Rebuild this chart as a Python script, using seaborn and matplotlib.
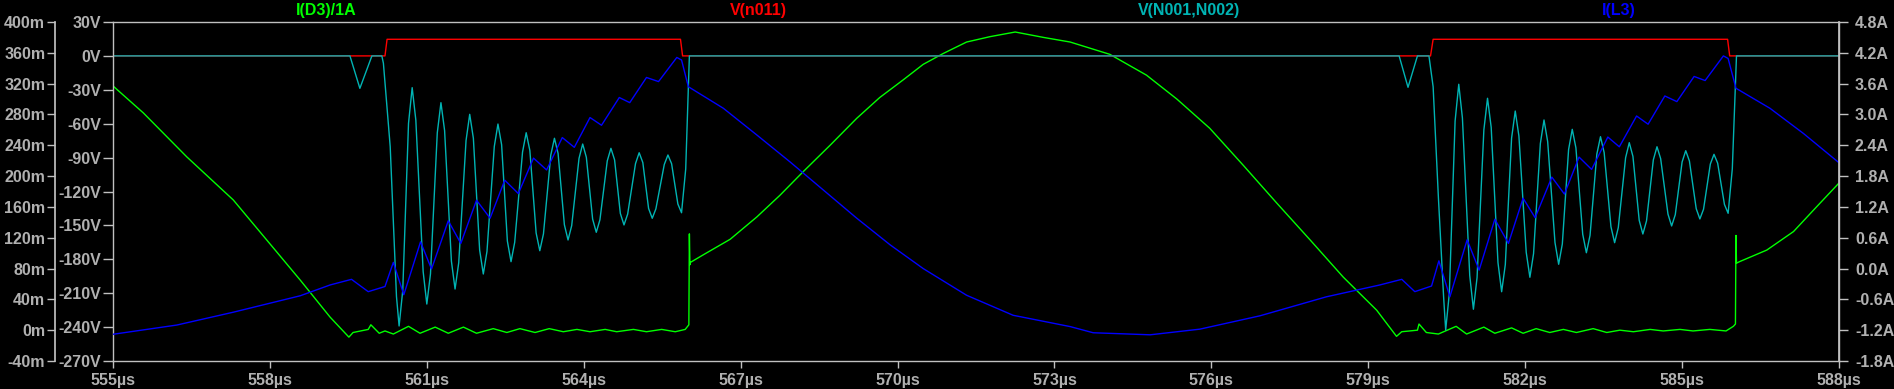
import matplotlib
matplotlib.use("Agg")
import matplotlib.pyplot as plt
import seaborn as sns

# LTspice-style waveform view, time in microseconds

# V(n011), volts
t_red = [555.00, 560.20, 560.24, 565.85, 565.89, 580.19, 580.24, 585.87, 585.91, 588.00]
v_red = [0.0, 0.0, 14.7, 14.7, 0.0, 0.0, 14.7, 14.7, 0.0, 0.0]

# V(N001,N002), volts
t_cyan = [555.00, 559.53, 559.72, 559.95, 560.14, 560.17, 560.30, 560.42,
          560.47, 560.54, 560.65, 560.72, 560.79, 560.93, 561.00, 561.07, 561.20,
          561.27, 561.34, 561.47, 561.54, 561.61, 561.75, 561.82, 561.89, 562.01,
          562.08, 562.15, 562.29, 562.36, 562.43, 562.54, 562.61, 562.68, 562.83,
          562.90, 562.97, 563.09, 563.16, 563.23, 563.37, 563.44, 563.51, 563.63,
          563.70, 563.77, 563.91, 563.98, 564.05, 564.17, 564.24, 564.31, 564.45,
          564.52, 564.59, 564.70, 564.77, 564.84, 564.99, 565.06, 565.13, 565.24,
          565.31, 565.38, 565.54, 565.61, 565.68, 565.80, 565.87, 565.95, 566.02,
          579.59, 579.76, 579.94, 580.16, 580.24, 580.34, 580.44,
          580.48, 580.55, 580.66, 580.73, 580.80, 580.94, 581.01, 581.08, 581.21,
          581.28, 581.35, 581.48, 581.55, 581.62, 581.74, 581.81, 581.88, 582.02,
          582.09, 582.16, 582.29, 582.36, 582.43, 582.57, 582.64, 582.71, 582.83,
          582.90, 582.97, 583.10, 583.17, 583.24, 583.37, 583.44, 583.51, 583.64,
          583.71, 583.78, 583.92, 583.99, 584.06, 584.18, 584.25, 584.32, 584.45,
          584.52, 584.59, 584.73, 584.80, 584.87, 585.00, 585.07, 585.14, 585.27,
          585.34, 585.41, 585.54, 585.61, 585.68, 585.81, 585.88, 585.96, 586.04,
          588.00]
v_cyan = [0.0, 0.0, -28.7, 0.0, 0.0, -6.5, -80.3, -213.0,
          -239.0, -207.4, -59.7, -28.1, -56.8, -190.9, -219.6, -192.9, -68.1,
          -41.4, -66.1, -181.6, -206.3, -183.1, -74.9, -51.7, -72.9, -171.8,
          -193.0, -173.1, -80.2, -60.3, -78.6, -163.8, -182.1, -165.0, -85.1,
          -68.0, -83.7, -156.7, -172.4, -157.5, -87.8, -72.9, -86.4, -149.4,
          -162.9, -150.2, -90.7, -78.0, -89.7, -144.4, -156.1, -145.0, -92.9,
          -81.8, -92.0, -139.4, -149.6, -140.0, -95.3, -85.7, -94.4, -135.0,
          -143.7, -135.3, -96.1, -87.7, -95.4, -131.1, -138.8, -100.0, 0.0,
          0.0, -27.8, 0.0, 0.0, -27.3, -124.6, -213.0,
          -242.6, -210.0, -57.7, -25.1, -55.0, -194.3, -224.2, -196.2, -65.5,
          -37.5, -63.2, -183.0, -208.7, -184.7, -72.8, -48.8, -70.9, -173.8,
          -195.9, -175.0, -77.6, -56.7, -75.9, -165.2, -184.4, -166.5, -82.9,
          -65.0, -81.4, -157.8, -174.2, -158.8, -86.9, -71.5, -85.6, -151.2,
          -165.3, -152.0, -90.1, -76.8, -88.9, -145.5, -157.6, -146.0, -92.0,
          -80.4, -90.9, -140.0, -150.5, -140.5, -93.9, -83.9, -93.0, -135.2,
          -144.3, -135.7, -95.7, -87.1, -94.9, -131.5, -139.3, -100.0, 0.0,
          0.0]

# I(D3)/1A
t_green = [555.00, 555.58, 556.41, 557.30, 557.94, 558.58, 559.15, 559.51,
           559.59, 559.88, 559.93,
           560.09, 560.20, 560.36, 560.65, 560.87, 561.16, 561.41, 561.70,
           561.95, 562.27, 562.53, 562.78, 563.07, 563.34, 563.61, 563.87,
           564.12, 564.41, 564.63, 564.95, 565.20, 565.49, 565.75, 565.94,
           566.01, 566.02, 566.03, 566.04, 566.29, 566.80, 567.31, 567.75,
           568.20, 568.71, 569.22, 569.66, 570.11, 570.49, 570.87, 571.32,
           571.77, 572.25, 572.79, 573.30, 574.06, 574.76, 575.34, 575.97,
           576.61, 577.25, 577.89, 578.52, 579.16, 579.54, 579.64, 579.94,
           579.97, 580.11, 580.34, 580.68, 580.88, 581.21, 581.42, 581.74,
           581.96, 582.21, 582.47, 582.73, 582.98, 583.30, 583.56, 583.81,
           584.07, 584.39, 584.64, 584.96, 585.21, 585.53, 585.84, 585.98,
           586.02, 586.03, 586.04, 586.10, 586.62, 587.13, 587.57, 588.00]
i_green = [0.317, 0.282, 0.225, 0.169, 0.117, 0.065, 0.017, -0.009,
           -0.003, 0.001, 0.007,
           -0.004, -0.001, -0.005, 0.005, -0.004, 0.004, -0.004, 0.004,
           -0.004, 0.002, -0.003, 0.002, -0.003, 0.002, -0.002, 0.001,
           -0.002, 0.001, -0.002, 0.001, -0.002, 0.001, -0.002, 0.001,
           0.007, 0.125, 0.085, 0.088, 0.098, 0.118, 0.147, 0.175,
           0.206, 0.240, 0.275, 0.302, 0.325, 0.345, 0.359, 0.374,
           0.381, 0.387, 0.380, 0.374, 0.358, 0.331, 0.300, 0.262,
           0.214, 0.165, 0.117, 0.069, 0.026, -0.008, -0.002, 0.000,
           0.008, -0.003, -0.005, 0.005, -0.005, 0.004, -0.004, 0.003,
           -0.004, 0.002, -0.003, 0.001, -0.003, 0.002, -0.003, 0.000,
           -0.002, 0.001, -0.001, 0.001, -0.001, 0.001, -0.001, 0.005,
           0.008, 0.123, 0.087, 0.089, 0.104, 0.128, 0.160, 0.191]

# I(L3), amps
t_blue = [555.00, 556.22, 557.30, 558.58, 559.15, 559.56, 559.88, 560.20,
          560.36, 560.56, 560.88, 561.09, 561.41, 561.65, 561.95, 562.21,
          562.49, 562.75, 563.04, 563.29, 563.59, 563.82, 564.12, 564.34,
          564.68, 564.88, 565.20, 565.43, 565.78, 565.87, 566.00, 566.67,
          567.31, 567.94, 568.58, 569.22, 569.86, 570.49, 571.32, 572.21,
          573.30, 573.74, 574.83, 575.78, 576.93, 578.20, 579.22, 579.64,
          579.89, 580.21, 580.35, 580.56, 580.89, 581.12, 581.42, 581.68,
          581.96, 582.19, 582.51, 582.75, 583.03, 583.27, 583.58, 583.80,
          584.13, 584.35, 584.67, 584.90, 585.23, 585.44, 585.79, 585.88,
          586.03, 586.68, 587.32, 588.00]
i_blue = [-1.28, -1.10, -0.85, -0.53, -0.32, -0.21, -0.45, -0.35,
          0.12, -0.51, 0.52, -0.01, 0.93, 0.49, 1.33, 0.98,
          1.72, 1.46, 2.15, 1.92, 2.55, 2.36, 2.94, 2.79,
          3.33, 3.23, 3.72, 3.64, 4.11, 4.06, 3.54, 3.12,
          2.60, 2.08, 1.53, 0.98, 0.46, 0.00, -0.52, -0.91,
          -1.13, -1.25, -1.29, -1.18, -0.92, -0.55, -0.32, -0.21,
          -0.45, -0.34, 0.15, -0.55, 0.56, -0.03, 0.96, 0.49,
          1.37, 0.99, 1.78, 1.45, 2.17, 1.93, 2.56, 2.37,
          2.97, 2.81, 3.36, 3.25, 3.74, 3.66, 4.14, 4.09,
          3.51, 3.12, 2.63, 2.06]

x_ticks = [555, 558, 561, 564, 567, 570, 573, 576, 579, 582, 585, 588]
v_ticks = [30, 0, -30, -60, -90, -120, -150, -180, -210, -240, -270]
i_ticks = [0.40, 0.36, 0.32, 0.28, 0.24, 0.20, 0.16, 0.12, 0.08, 0.04, 0.0, -0.04]
a_ticks = [4.8, 4.2, 3.6, 3.0, 2.4, 1.8, 1.2, 0.6, 0.0, -0.6, -1.2, -1.8]

trace_names = ["I(D3)/1A", "V(n011)", "V(N001,N002)", "I(L3)"]
trace_colors = ["#00ff00", "#ff0000", "#00b4b4", "#0000ff"]

sns.set_theme(style="ticks", rc={"axes.facecolor": "black", "figure.facecolor": "black"})
plt.rcParams["font.family"] = ["Liberation Sans", "DejaVu Sans"]
plt.rcParams["font.weight"] = "bold"

FG = "#c0c0c0"
TXT = "#b0b0b0"
FS = 11.5

fig = plt.figure(figsize=(18.94, 3.89), dpi=100)
fig.patch.set_facecolor("black")
W, H = 1894, 389
ax_v = fig.add_axes([113 / W, 1 - 361 / H, (1839 - 113) / W, (361 - 22) / H])
ax_i = ax_v.twinx()
ax_a = ax_v.twinx()

ax_i.set_zorder(1)
ax_v.set_zorder(2)
ax_a.set_zorder(3)
for ax in (ax_v, ax_i, ax_a):
    ax.patch.set_visible(False)

lw = 1.0
sns.lineplot(x=t_green, y=i_green, ax=ax_i, color=trace_colors[0], lw=lw,
             estimator=None, sort=False, legend=False)
sns.lineplot(x=t_red, y=v_red, ax=ax_v, color=trace_colors[1], lw=lw,
             estimator=None, sort=False, legend=False)
sns.lineplot(x=t_cyan, y=v_cyan, ax=ax_v, color=trace_colors[2], lw=lw,
             estimator=None, sort=False, legend=False)
sns.lineplot(x=t_blue, y=i_blue, ax=ax_a, color=trace_colors[3], lw=lw,
             estimator=None, sort=False, legend=False)

ax_v.set_xlim(555, 588)
ax_v.set_ylim(-270, 30)
ax_i.set_ylim(-0.04, 0.40)
ax_a.set_ylim(-1.8, 4.8)

# main (volts) axis: full box
for s in ax_v.spines.values():
    s.set_color(FG)
    s.set_linewidth(1.0)
ax_v.set_xticks(x_ticks)
ax_v.set_xticklabels([f"{t}µs" for t in x_ticks])
ax_v.set_yticks(v_ticks)
ax_v.set_yticklabels([f"{v}V" for v in v_ticks])
ax_v.tick_params(axis="x", colors=FG, labelcolor=TXT, length=5, width=1,
                 direction="out", pad=3.5, labelsize=FS)
ax_v.tick_params(axis="y", colors=FG, labelcolor=TXT, length=7, width=1,
                 direction="out", pad=1.5, labelsize=FS)
ax_v.set_xlabel("")
ax_v.set_ylabel("")

# outer left axis for I(D3)/1A
for name, s in ax_i.spines.items():
    s.set_visible(name == "left")
ax_i.spines["left"].set_position(("outward", 41.8))
ax_i.spines["left"].set_color(FG)
ax_i.yaxis.set_ticks_position("left")
ax_i.yaxis.set_label_position("left")
ax_i.set_yticks(i_ticks)
ax_i.set_yticklabels([f"{round(v * 1000)}m" for v in i_ticks])
ax_i.tick_params(axis="y", colors=FG, labelcolor=TXT, length=6, width=1,
                 direction="out", pad=1.0, labelsize=FS)
ax_i.set_ylabel("")

# right axis for I(L3)
for name, s in ax_a.spines.items():
    s.set_visible(name == "right")
ax_a.spines["right"].set_color(FG)
ax_a.set_yticks(a_ticks)
ax_a.set_yticklabels([f"{v:.1f}A" for v in a_ticks])
ax_a.tick_params(axis="y", colors=FG, labelcolor=TXT, length=6.5, width=1,
                 direction="out", pad=5, labelsize=FS)
ax_a.set_ylabel("")

# trace names above the plot
name_x = [326, 758, 1189, 1619]
for nm, col, xp in zip(trace_names, trace_colors, name_x):
    fig.text(xp / W, 1 - 10 / H, nm, color=col, fontsize=FS, fontweight="bold",
             ha="center", va="center")

fig.savefig("out.png", dpi=100, facecolor="black")
